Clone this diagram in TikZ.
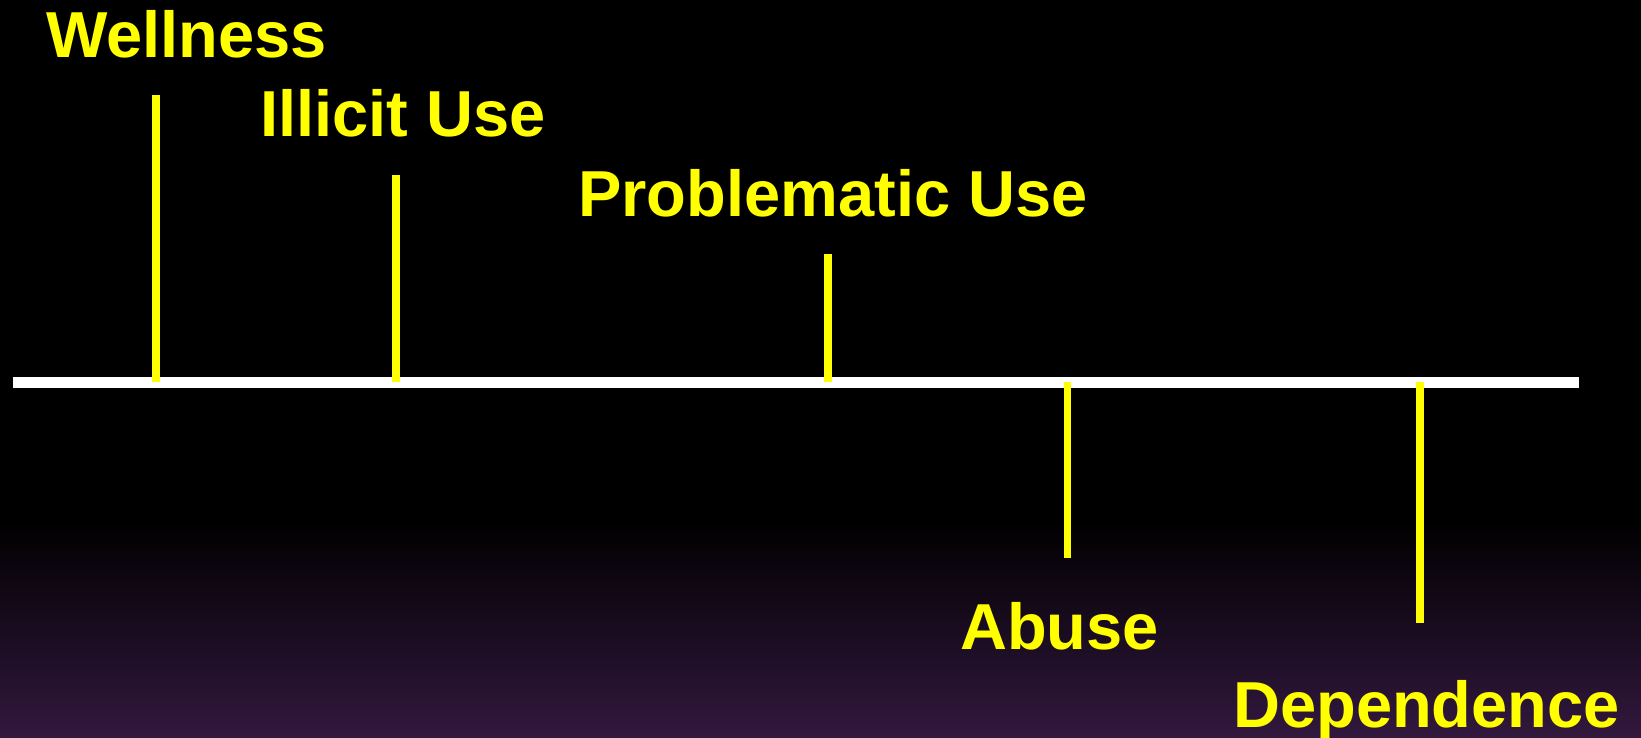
\documentclass[tikz,border=0pt]{standalone}
\usepackage{fontspec}
\setmainfont{Liberation Sans}
\definecolor{bgpurple}{RGB}{50,24,62}
\definecolor{tickyellow}{RGB}{255,255,0}
\begin{document}
\begin{tikzpicture}[x=1pt,y=-1pt,
  lbl/.style={anchor=base west,inner sep=0pt,text=tickyellow,font=\fontsize{65}{65}\selectfont\bfseries},
  axisline/.style={draw=white,line width=11pt},
  tickline/.style={draw=tickyellow,line width=7.5pt}]
\useasboundingbox (0,0) rectangle (1641,738);
\fill[black] (0,0) rectangle (1641,521);
\shade[top color=black,bottom color=bgpurple] (0,520) rectangle (1641,738);
% axis
\coordinate (axL) at (12.5,382);
\coordinate (axR) at (1579,382);
\draw[axisline] (axL) -- (axR);
% tick base points (on the axis centre line)
\coordinate (bW) at (156,382);
\coordinate (bI) at (396,382);
\coordinate (bP) at (828,382);
\coordinate (bA) at (1067.5,382);
\coordinate (bD) at (1420,382);
% tick free ends
\coordinate (tW) at (156,95);
\coordinate (tI) at (396,175);
\coordinate (tP) at (828,254);
\coordinate (tA) at (1067.5,558);
\coordinate (tD) at (1420,623);
\draw[tickline] (bW) -- (tW);
\draw[tickline] (bI) -- (tI);
\draw[tickline] (bP) -- (tP);
\draw[tickline] (bA) -- (tA);
\draw[tickline] (bD) -- (tD);
% labels
\node[lbl] (wellness) at (46,57.5) {Wellness};
\node[lbl] (illicit) at (260,137) {Illicit Use};
\node[lbl] (problem) at (578,217) {Problematic Use};
\node[lbl] (abuse) at (960,649) {Abuse};
\node[lbl] (depend) at (1233,727) {Dependence};
\end{tikzpicture}
\end{document}
